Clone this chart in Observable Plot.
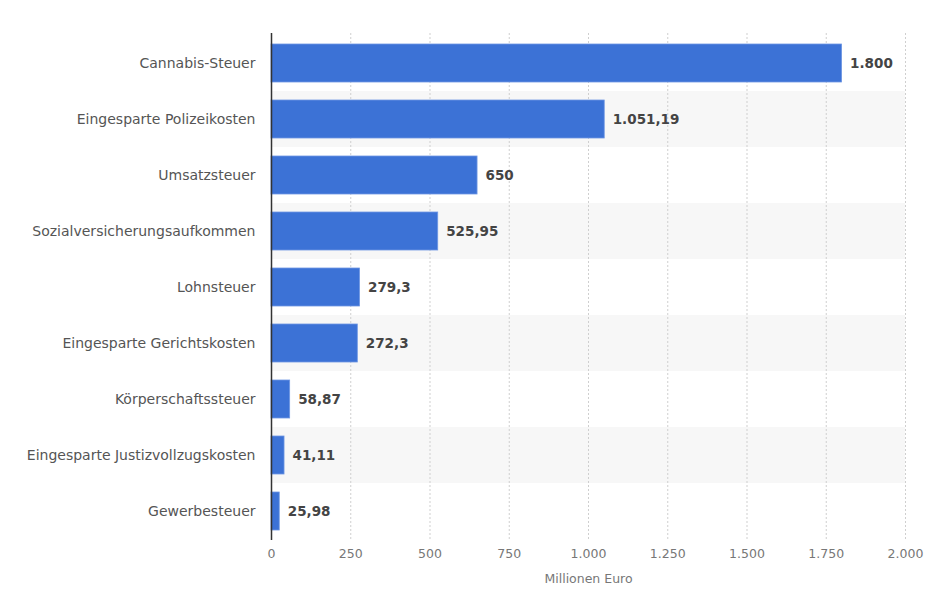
<!DOCTYPE html>
<html>
<head>
<meta charset="utf-8">
<script src="https://cdn.jsdelivr.net/npm/d3@7"></script>
<script src="https://cdn.jsdelivr.net/npm/@observablehq/plot@0.6"></script>
<style>
  html, body { margin: 0; padding: 0; background: #fff; }
  #chart svg { display: block; }
</style>
</head>
<body>
<div id="chart"></div>
<script>
const categories = [
  "Cannabis-Steuer",
  "Eingesparte Polizeikosten",
  "Umsatzsteuer",
  "Sozialversicherungsaufkommen",
  "Lohnsteuer",
  "Eingesparte Gerichtskosten",
  "Körperschaftssteuer",
  "Eingesparte Justizvollzugskosten",
  "Gewerbesteuer"
];
const values = [1800, 1051.19, 650, 525.95, 279.3, 272.3, 58.87, 41.11, 25.98];
const xTicks = [0, 250, 500, 750, 1000, 1250, 1500, 1750, 2000];
const xLabel = "Millionen Euro";

const de = d3.formatLocale({decimal: ",", thousands: ".", grouping: [3], currency: ["", " €"]});
const fmtVal = de.format(",.2~f");
const fmtTick = de.format(",d");

const data = categories.map((c, i) => ({category: c, value: values[i], stripe: i % 2 === 1}));
const xMax = xTicks[xTicks.length - 1];

const chart = Plot.plot({
  width: 930,
  height: 602,
  marginLeft: 271,
  marginRight: 25,
  marginTop: 33,
  marginBottom: 62,
  style: {fontFamily: "'DejaVu Sans', sans-serif", fontSize: "13px", background: "#fff"},
  x: {domain: [0, xMax], axis: null},
  y: {domain: categories, padding: 0, axis: null},
  marks: [
    Plot.barX(data.filter(d => d.stripe), {y: "category", x1: 0, x2: xMax, fill: "#f7f7f7"}),
    Plot.gridX(xTicks.slice(1), {stroke: "#cfcfcf", strokeOpacity: 1, strokeDasharray: "2,2", strokeWidth: 1}),
    Plot.barX(data, {y: "category", x: "value", fill: "#3c72d6", stroke: "#6f97e3", strokeWidth: 0.8, insetTop: 9, insetBottom: 9}),
    Plot.ruleX([0], {stroke: "#333", strokeWidth: 1.5}),
    Plot.text(data, {y: "category", x: "value", text: d => fmtVal(d.value), dx: 8, textAnchor: "start", fill: "#444", fontWeight: "bold", fontSize: 13.5}),
    Plot.axisY({tickSize: 0, tickPadding: 16, fill: "#555", fontSize: 14, label: null}),
    Plot.axisX(xTicks, {tickSize: 0, tickPadding: 9, tickFormat: fmtTick, fill: "#777", fontSize: 12.5, label: xLabel, labelAnchor: "center", labelArrow: "none", labelOffset: 42})
  ]
});
document.getElementById("chart").appendChild(chart);
</script>
</body>
</html>
